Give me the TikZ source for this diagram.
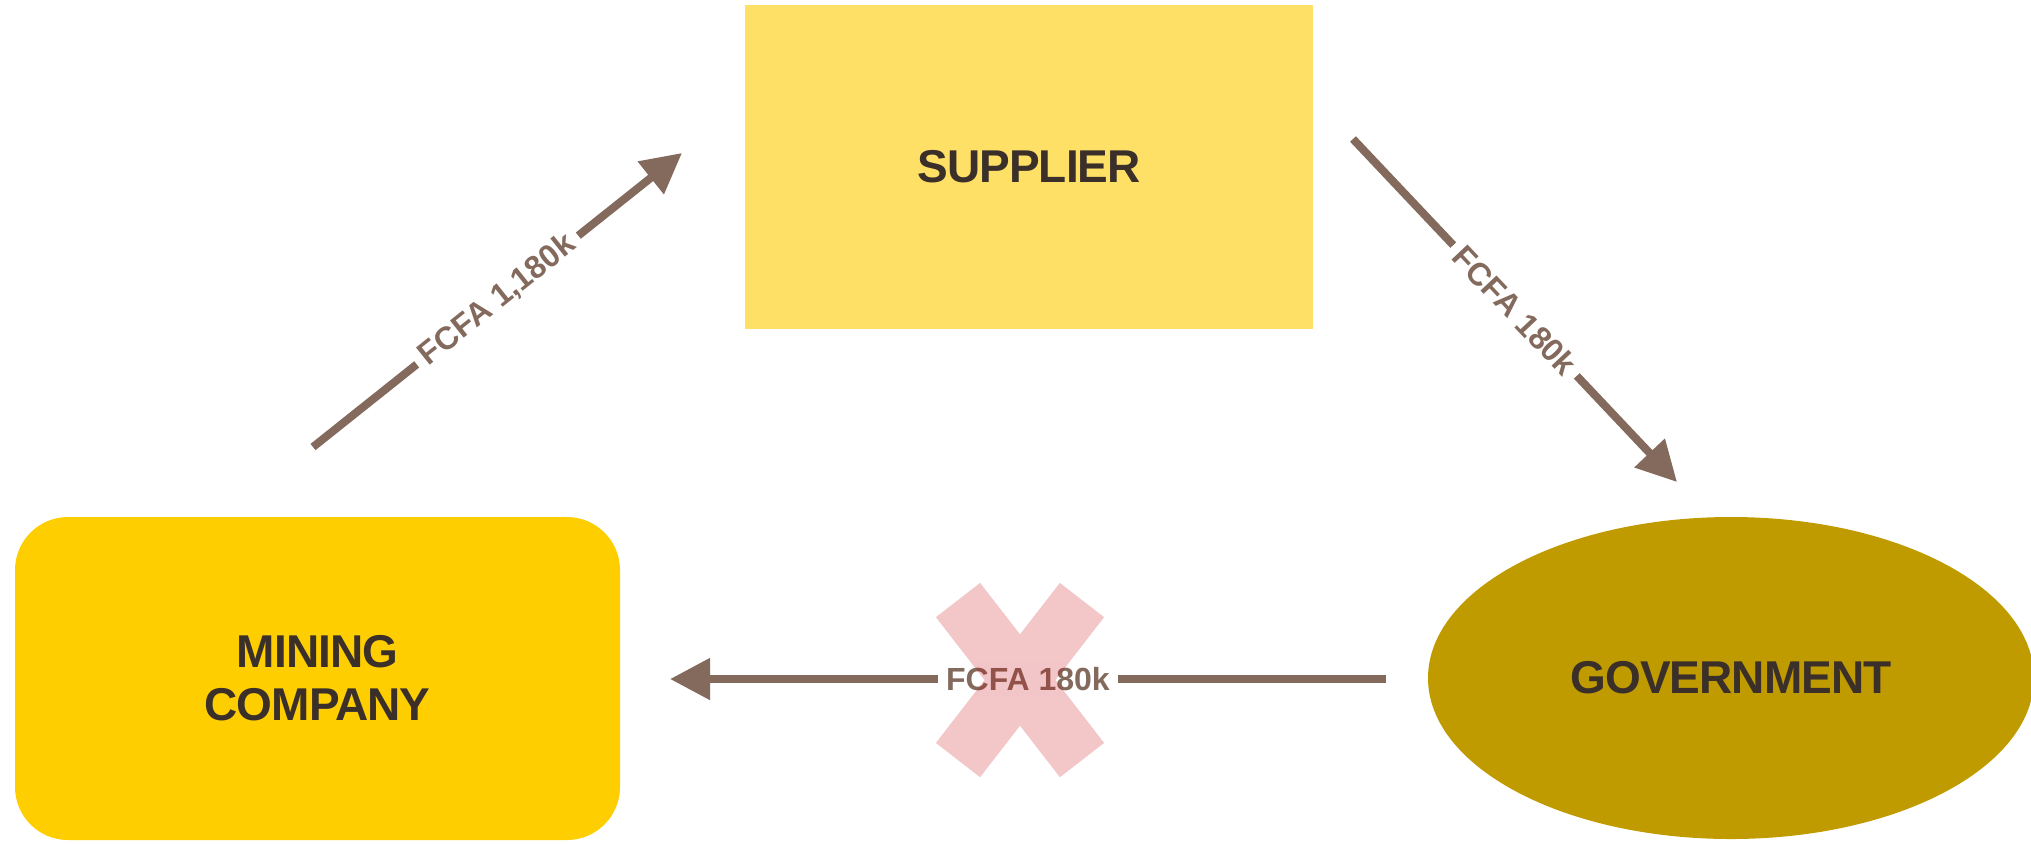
\documentclass[tikz,border=0pt]{standalone}
\usepackage{fontspec}
\setmainfont{Liberation Sans}
\newfontfamily\boxfont[LetterSpace=-2.0]{Liberation Sans}
\usetikzlibrary{arrows.meta,shapes.geometric}
\definecolor{supfill}{RGB}{255,224,102}
\definecolor{minefill}{RGB}{255,206,0}
\definecolor{govfill}{RGB}{192,155,0}
\definecolor{arrowc}{RGB}{131,106,93}
\definecolor{txtc}{RGB}{59,48,41}
\definecolor{crossc}{RGB}{200,0,10}
\begin{document}
\begin{tikzpicture}[x=0.5pt,y=-0.5pt,
  entity/.style={text=txtc, font=\boxfont\fontsize{23}{26.5}\selectfont\bfseries, align=center, inner sep=0pt},
  flow/.style={draw=arrowc, line width=4pt, -{Triangle[length=20pt,width=20pt]}},
  flowlbl/.style={fill=white, text=arrowc, font=\fontsize{16}{19}\selectfont\bfseries, inner xsep=4pt, inner ysep=3pt},
  crossmark/.style={fill=crossc, fill opacity=0.225, draw=none}]
\useasboundingbox (0,0) rectangle (2031,843);
\node[entity, fill=supfill, rectangle, minimum width=284pt, minimum height=162pt] (supplier) at (1029,167) {SUPPLIER};
\node[entity, fill=minefill, rectangle, rounded corners=26.5pt, minimum width=302.5pt, minimum height=161.5pt] (mining) at (317.5,678.5) {MINING\\COMPANY};
\node[entity, fill=govfill, ellipse, minimum width=303pt, minimum height=161pt] (gov) at (1731,678) {GOVERNMENT};
\coordinate (a1s) at (313,447);
\coordinate (a1e) at (682,153);
\coordinate (a2s) at (1353,139);
\coordinate (a2e) at (1677,482);
\coordinate (a3s) at (1386,679);
\coordinate (a3e) at (670,679);
\draw[flow] (a1s) -- node[flowlbl, sloped] {FCFA 1,180k} (a1e);
\draw[flow] (a2s) -- node[flowlbl, sloped] {FCFA 180k} (a2e);
\draw[flow] (a3s) -- node[flowlbl] (blocked) {FCFA 180k} (a3e);
\path[crossmark] (1020,634.3) -- (1059.9,582.9) -- (1104.1,617.2) -- (1055.4,680)
  -- (1104.1,742.9) -- (1059.9,777.2) -- (1020,725.7) -- (980.1,777.2)
  -- (935.9,742.9) -- (984.6,680) -- (935.9,617.2) -- (980.1,582.9) -- cycle;
\end{tikzpicture}
\end{document}
